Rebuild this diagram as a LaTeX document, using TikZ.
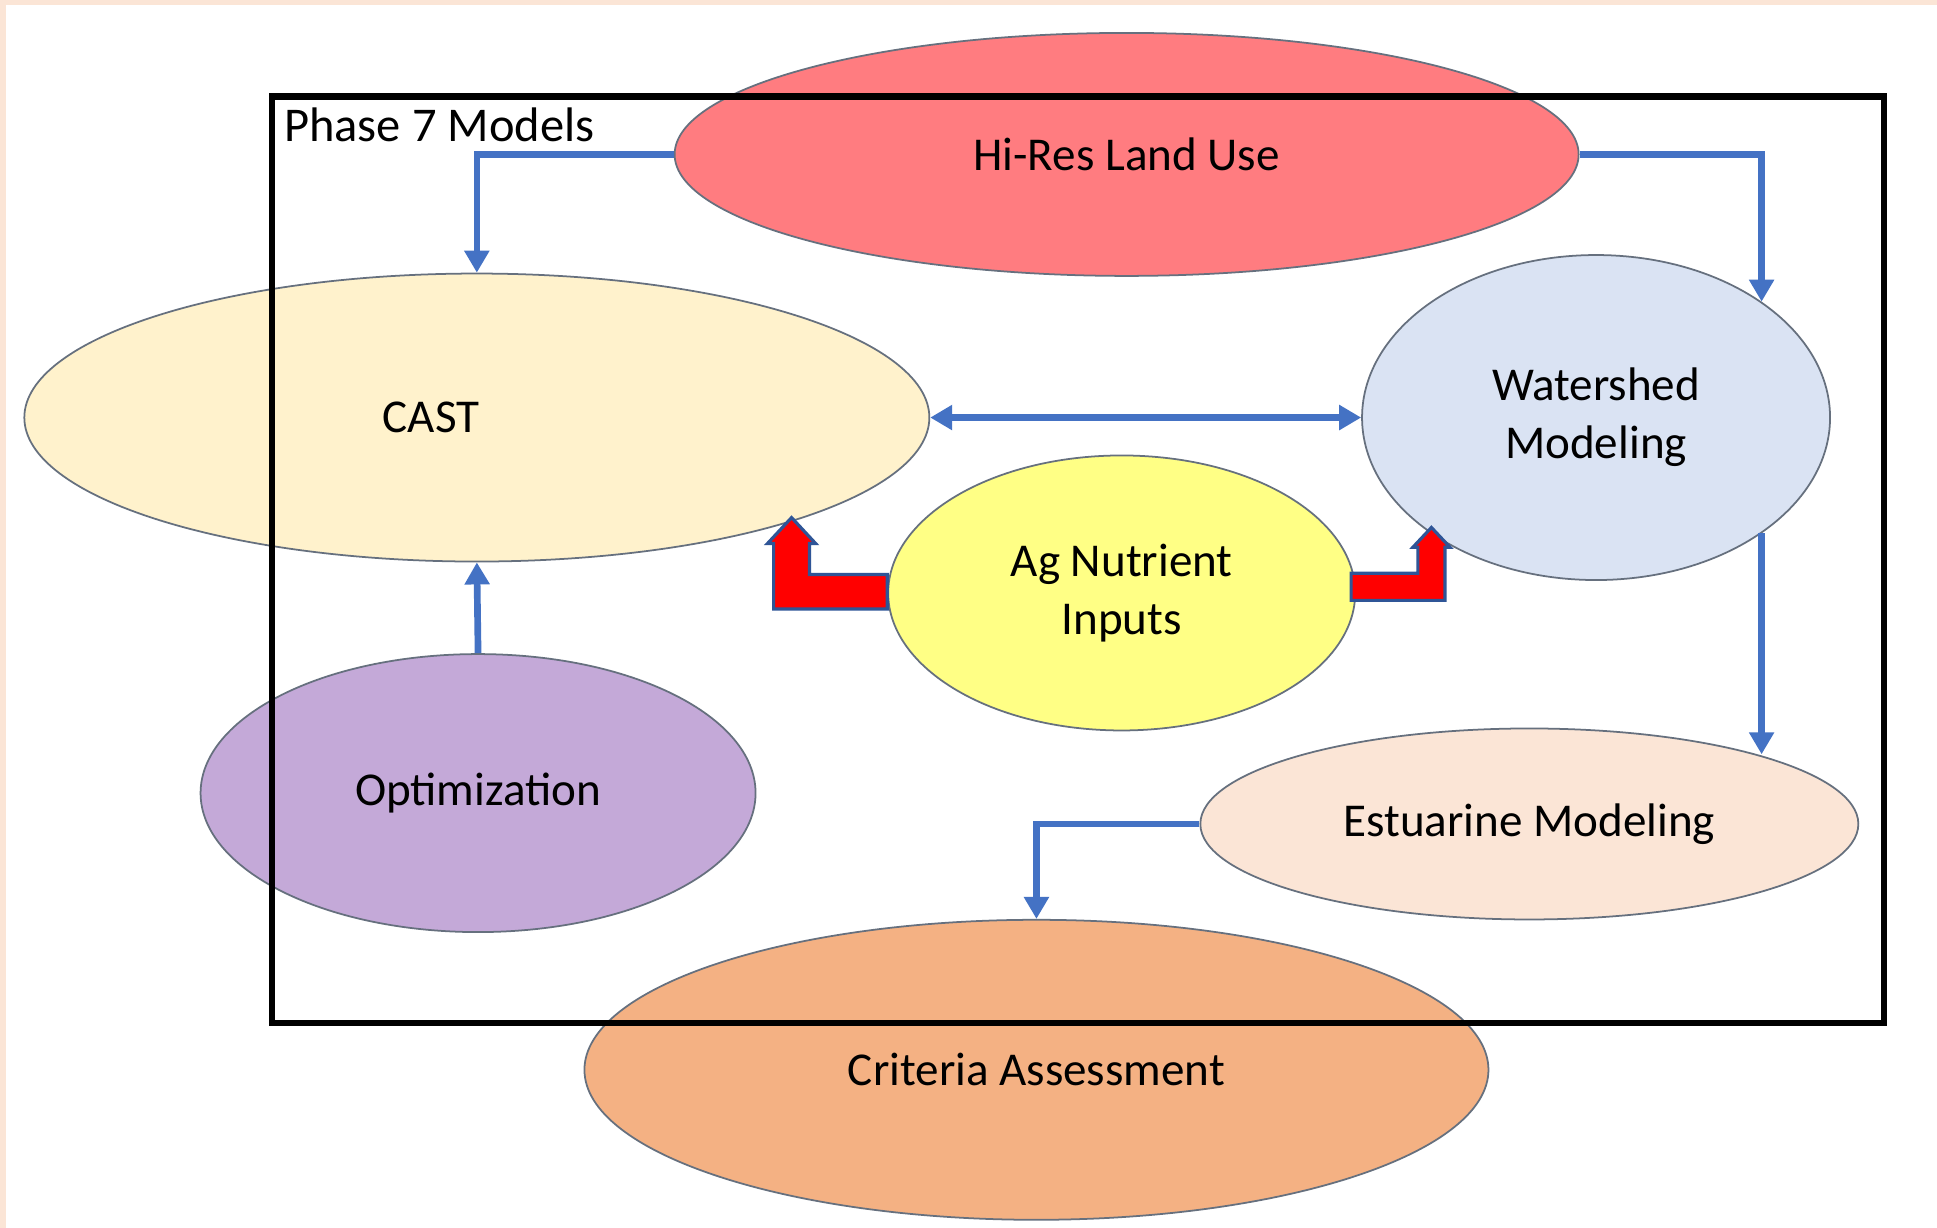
\documentclass[tikz,border=0pt]{standalone}
\usepackage{fontspec}
\setmainfont{Carlito}
\usepackage{tikz}
\usetikzlibrary{arrows.meta,positioning,shapes.geometric}
\definecolor{PhaseBlue}{HTML}{4472C4}
\definecolor{PhaseNavy}{HTML}{2F5597}
\definecolor{PhaseRed}{HTML}{FF0000}
\definecolor{PhasePeach}{HTML}{FBE5D6}
\definecolor{PhaseEdge}{HTML}{66707E}
\definecolor{LandRed}{HTML}{FF7C80}
\definecolor{CastCream}{HTML}{FFF2CC}
\definecolor{ShedBlue}{HTML}{DAE3F3}
\definecolor{AgYellow}{HTML}{FFFF85}
\definecolor{OptPurple}{HTML}{C4A9D8}
\definecolor{EstPeach}{HTML}{FBE5D6}
\definecolor{CritOrange}{HTML}{F4B183}
\tikzset{
  model/.style={ellipse, draw=PhaseEdge, line width=0.5pt, inner sep=0pt, align=center},
  frame/.style={draw=black, line width=1.8pt, inner sep=0pt},
  link/.style={-{Triangle[width=2.4mm,length=2.2mm]}, line width=1.9pt, draw=PhaseBlue},
  twoway/.style={link, {Triangle[width=2.4mm,length=2.2mm]}-{Triangle[width=2.4mm,length=2.2mm]}},
  bent/.style={fill=PhaseRed, draw=PhaseNavy, line width=0.9pt, line join=miter},
}
\begin{document}
\begin{tikzpicture}[x=0.12353mm,y=-0.12353mm,font=\fontsize{13.4pt}{16.5pt}\selectfont]
    \useasboundingbox (0,0) rectangle (1568,994);
    \fill[PhasePeach] (0,0) rectangle (1568,994);
    \fill[white] (5,4) rectangle (1568,994);
    % models
    \node[model,fill=LandRed,minimum width=90.4mm,minimum height=24.3mm] (landuse) at (912,125) {Hi-Res Land Use};
    \node[model,fill=CastCream,minimum width=90.5mm,minimum height=28.8mm] (cast) at (386,338) {};
    \node (castlabel) at ([shift={(-37,0)}]cast.center) {CAST};
    \node[model,fill=ShedBlue,minimum width=46.8mm,minimum height=32.5mm] (shed) at (1292,338) {Watershed\\Modeling};
    \node[model,fill=AgYellow,minimum width=46.7mm,minimum height=27.5mm] (ag) at (908,480) {Ag Nutrient\\Inputs};
    \node[model,fill=OptPurple,minimum width=55.5mm,minimum height=27.8mm] (opt) at (387,642) {Optimization};
    \node[model,fill=EstPeach,minimum width=65.8mm,minimum height=19.1mm] (est) at (1238,667) {Estuarine Modeling};
    \node[model,fill=CritOrange,minimum width=90.4mm,minimum height=30mm] (crit) at (839,866) {Criteria Assessment};
    % phase 7 box
    \node[frame,minimum width=161.2mm,minimum height=92.65mm] (box) at (872.5,453) {};
    \node[anchor=west,inner sep=0pt,font=\fontsize{13.8pt}{16.5pt}\selectfont] (phase) at ([shift={(12,26)}]box.north west) {Phase 7 Models};
    % links
    \draw[link] (landuse.west) -| (cast.north);
    \draw[link] (landuse.east) -| (shed.35);
    \draw[twoway] (cast.east) -- (shed.west);
    \draw[link] (opt.north) -- (cast.south);
    \draw[link] (shed.-35) -- (shed.-35 |- est.17);
    \draw[link] (est.west) -| (crit.north);
    % ag inputs
    \draw[bent] ([shift={(0,13)}]ag.west) -- ++(-92,0) -- ++(0,-53) -- ++(-5,0) -- ++(19.5,-21)
      -- ++(19.5,21) -- ++(-5,0) -- ++(0,25) -- ++(63,0) -- cycle;
    \draw[bent] ([shift={(-4,6)}]ag.east) -- ++(76,0) -- ++(0,-43) -- ++(4,0) -- ++(-15,-16)
      -- ++(-15,16) -- ++(4,0) -- ++(0,21) -- ++(-54,0) -- cycle;
\end{tikzpicture}
\end{document}
